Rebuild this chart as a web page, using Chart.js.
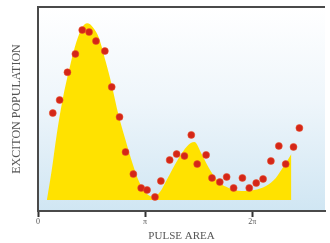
<!DOCTYPE html>
<html>
<head>
<meta charset="utf-8">
<style>
  html, body { margin: 0; padding: 0; background: #fff; }
  #wrap { width: 330px; height: 243px; }
</style>
<script src="https://cdn.jsdelivr.net/npm/chart.js@4/dist/chart.umd.min.js"></script>
</head>
<body>
<div id="wrap"><canvas id="pulseChart"></canvas></div>
<script>
// pulse area in units of pi, exciton population in arbitrary units
const dotArea = [0.138, 0.202, 0.275, 0.349, 0.413, 0.477, 0.541, 0.624, 0.688, 0.761,
    0.817, 0.890, 0.963, 1.018, 1.092, 1.147, 1.229, 1.294, 1.367, 1.431,
    1.486, 1.569, 1.624, 1.697, 1.761, 1.826, 1.908, 1.972, 2.037, 2.101,
    2.174, 2.248, 2.312, 2.385, 2.440];
const dotPop = [0.480, 0.544, 0.680, 0.770, 0.887, 0.877, 0.833, 0.784, 0.608, 0.461,
    0.289, 0.181, 0.113, 0.103, 0.069, 0.147, 0.250, 0.279, 0.270, 0.373,
    0.230, 0.275, 0.162, 0.142, 0.167, 0.113, 0.162, 0.113, 0.137, 0.157,
    0.245, 0.319, 0.230, 0.314, 0.407];

const theoryArea = [0.083, 0.128, 0.174, 0.229, 0.294, 0.358, 0.413, 0.459, 0.514, 0.569,
    0.633, 0.688, 0.752, 0.817, 0.881, 0.945, 1.009, 1.073, 1.138, 1.211,
    1.303, 1.394, 1.459, 1.532, 1.606, 1.688, 1.780, 1.899, 2.018, 2.128,
    2.220, 2.294, 2.365];
const theoryPop = [0.054, 0.200, 0.373, 0.544, 0.700, 0.828, 0.900, 0.920, 0.900, 0.848,
    0.730, 0.618, 0.470, 0.348, 0.235, 0.142, 0.088, 0.069, 0.093, 0.162,
    0.250, 0.319, 0.338, 0.275, 0.201, 0.142, 0.113, 0.098, 0.103, 0.123,
    0.162, 0.220, 0.280];
const baseline = 0.054;

const tickValues = [0, 1, 2];
const tickLabels = ['0', 'π', '2π'];

const plotBackground = {
    id: 'plotBackground',
    beforeDraw(chart) {
        const { ctx, chartArea: a } = chart;
        const g = ctx.createLinearGradient(0, a.top, 0, a.bottom);
        g.addColorStop(0, '#ffffff');
        g.addColorStop(0.45, '#eff6fb');
        g.addColorStop(1, '#d0e6f3');
        ctx.save();
        ctx.fillStyle = g;
        ctx.fillRect(a.left, a.top, a.right - a.left, a.bottom - a.top);
        ctx.restore();
    },
    afterDraw(chart) {
        const { ctx, chartArea: a } = chart;
        ctx.save();
        ctx.strokeStyle = '#4a4a4a';
        ctx.lineWidth = 2;
        ctx.beginPath();
        ctx.moveTo(a.left, a.top);
        ctx.lineTo(a.right, a.top);
        ctx.stroke();
        ctx.restore();
    }
};

function initChart() {
    const ctx = document.getElementById('pulseChart').getContext('2d');
    new Chart(ctx, {
        type: 'scatter',
        data: {
            datasets: [{
                label: 'measured',
                data: dotArea.map((x, i) => ({ x: x, y: dotPop[i] })),
                pointRadius: 3.5,
                pointBackgroundColor: '#d42618',
                pointBorderColor: 'rgba(235, 80, 40, 0.55)',
                pointBorderWidth: 1,
                order: 0
            }, {
                label: 'theory',
                data: theoryArea.map((x, i) => ({ x: x, y: theoryPop[i] })),
                showLine: true,
                cubicInterpolationMode: 'monotone',
                borderWidth: 0,
                borderColor: 'rgba(0,0,0,0)',
                backgroundColor: '#ffe200',
                pointRadius: 0,
                fill: { value: baseline },
                order: 1
            }]
        },
        options: {
            responsive: true,
            maintainAspectRatio: false,
            animation: false,
            layout: { padding: { top: 7, right: 0, left: 0, bottom: 0 } },
            plugins: {
                legend: { display: false },
                tooltip: { enabled: false }
            },
            scales: {
                x: {
                    type: 'linear',
                    min: 0,
                    max: 2.679,
                    afterBuildTicks: (scale) => {
                        scale.ticks = tickValues.map(v => ({ value: v }));
                    },
                    afterFit: (scale) => { scale.height = 32; },
                    ticks: {
                        callback: (v) => tickLabels[tickValues.indexOf(v)],
                        font: { family: 'Liberation Serif', size: 8 },
                        color: '#555',
                        padding: 0,
                        maxRotation: 0
                    },
                    grid: {
                        drawOnChartArea: false,
                        tickLength: 6,
                        tickWidth: 2,
                        tickColor: '#333'
                    },
                    border: { color: '#4a4a4a', width: 2 },
                    title: {
                        display: true,
                        text: 'PULSE AREA',
                        font: { family: 'Liberation Serif', size: 11 },
                        color: '#555',
                        padding: { top: 0, bottom: 0 }
                    }
                },
                y: {
                    min: 0,
                    max: 1,
                    afterFit: (scale) => { scale.width = 38; },
                    ticks: { display: false },
                    grid: { display: false },
                    border: { color: '#4a4a4a', width: 2 },
                    title: {
                        display: true,
                        text: 'EXCITON POPULATION',
                        font: { family: 'Liberation Serif', size: 12 },
                        color: '#555',
                        padding: { top: 10, bottom: 0 }
                    }
                }
            }
        },
        plugins: [plotBackground]
    });
}

window.onload = () => {
    initChart();
};
</script>
</body>
</html>
